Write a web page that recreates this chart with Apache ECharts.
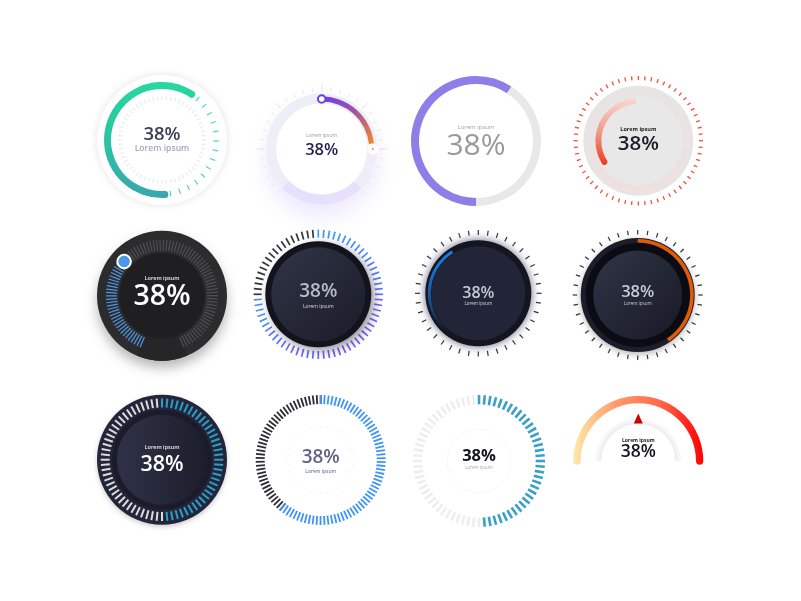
<!DOCTYPE html>
<html>
<head>
<meta charset="utf-8">
<title>Gauges</title>
<style>
  html, body { margin: 0; background: #fff; }
  #main { width: 801px; height: 601px; }
</style>
<script src="https://cdn.jsdelivr.net/npm/echarts@6/dist/echarts.min.js"></script>
</head>
<body>
<div id="main"></div>
<script>
// every dial shows the same reading
const percentValues = [38, 38, 38, 38, 38, 38, 38, 38, 38, 38, 38, 38];
const captions = Array(12).fill('Lorem ipsum');

// arc spans, [from, to] in degrees, clockwise
const greenArc = [273, 57];
const violetArc = [90, 6];
const purpleArc = [270, 57];
const greyArc = [57, -90];
const redArc = [212, 97];
const fadeBlueArc = [232, 122];
const orangeArc = [90, -56];
const warmArc = [180, 0];
// tick spans
const greenTicks = [49, -81];
const blueKnobTicks = [247, 138];
const greyKnobTicks = [138, -67];
const blackRimTicks = [231, 90];
const blueRimTicks = [90, -129];
// where the knobs and the triangle sit
const violetKnobAngle = 90;
const orangeKnobAngle = 0;
const blueKnobAngle = 138;
const trianglePosition = 90;

// tick colours going clockwise
const violetRimColors = ['#3d97ff', '#4a8cff', '#5a7cff', '#6d6af8', '#7a5cf5', '#7558f5', '#6a62fa', '#5a74ff', '#4a8cff', '#34343f', '#34343f', '#34343f'];
const halfBlueColors = ['#2b9fc5', '#dcdcdc'];
const halfPaleColors = ['#3aa0c8', '#eeeeee'];

const FONT = '"Open Sans"';
const series = [];
let z = 1;

function grad(x2, y2, x, y, stops) {
    return { type: 'linear', x: x, y: y, x2: x2, y2: y2, colorStops: stops.map((c, i) => ({ offset: i / (stops.length - 1), color: c })) };
}

function disc(c, r0, r, color, shadow) {
    series.push({
        type: 'pie', z: z++, center: c, radius: [r0, r], silent: true, animation: false,
        label: { show: false }, labelLine: { show: false },
        data: [{ value: 1, itemStyle: Object.assign({ color: color }, shadow || {}) }]
    });
}

function gaugeBase(c, r, from, to) {
    return {
        type: 'gauge', z: z++, center: c, radius: r, startAngle: from, endAngle: to, min: 0, max: 100,
        silent: true, animation: false,
        axisLine: { show: false, lineStyle: { width: 0 } },
        axisTick: { show: false }, splitLine: { show: false }, axisLabel: { show: false },
        pointer: { show: false }, anchor: { show: false }, title: { show: false }, detail: { show: false },
        data: [{ value: 0 }]
    };
}

function arc(c, r, width, span, color, round) {
    const g = gaugeBase(c, r, span[0], span[1]);
    g.progress = { show: true, width: width, roundCap: !!round, itemStyle: { color: color } };
    g.data = [{ value: 100 }];
    series.push(g);
}

// count ticks evenly on an open span
function ticks(c, r, len, width, count, span, colors) {
    const g = gaugeBase(c, r, span[0], span[1]);
    g.splitNumber = count - 1;
    g.axisLine.lineStyle.color = colors.map((col, i) => [(i + 1) / colors.length, col]);
    g.splitLine = { show: true, length: len, distance: 0, lineStyle: { color: 'auto', width: width } };
    series.push(g);
}

// count ticks round the whole circle, first one at the top
function ringTicks(c, r, len, width, count, colors) {
    ticks(c, r, len, width, count, [90, 90 - 360 * (count - 1) / count], colors);
}

function knob(c, r, angle, size, color, border, borderWidth, icon) {
    const g = gaugeBase(c, r, angle, angle - 1);
    g.pointer = {
        show: true, icon: icon || 'circle', width: size, length: size, offsetCenter: [0, -r + size / 2],
        itemStyle: { color: color, borderColor: border, borderWidth: borderWidth }
    };
    series.push(g);
}

function label(c, i, o) {
    const g = gaugeBase(c, 40, 225, -45);
    g.title = { show: true, offsetCenter: [0, o.capY], fontSize: o.capSize, color: o.capColor, fontFamily: FONT, fontWeight: o.capWeight || 400 };
    g.detail = {
        show: true, formatter: '{value}%', offsetCenter: [0, o.y], fontSize: o.size, color: o.color,
        fontFamily: FONT, fontWeight: o.weight || 600, valueAnimation: false
    };
    g.data = [{ value: percentValues[i], name: captions[i] }];
    series.push(g);
}

// 1 green
let c = [162, 140];
disc(c, 0, 65, '#fff', { shadowBlur: 8, shadowColor: 'rgba(0,0,0,0.11)' });
ringTicks(c, 44, 4, 1.5, 60, ['#eeeef0']);
ticks(c, 57, 5.5, 1.1, 14, greenTicks, ['#3ed6ab']);
arc(c, 58, 7, greenArc, grad(0, 1, 0, 0, ['#26d8a0', '#2cc3a3', '#39a6ad']), true);
label(c, 0, { capY: 9, capSize: 8.6, capColor: '#a5a7bc', capWeight: 600, y: -5, size: 18.5, color: '#394059' });

// 2 violet
c = [321.7, 149];
disc(c, 0, 55.5, '#eeeef8', { shadowBlur: 22, shadowColor: 'rgba(125,95,240,0.14)', shadowOffsetY: 12 });
arc(c, 55.5, 10, [-45, -135], '#e5e0fb');
disc(c, 0, 45.5, '#fff');
(function () {
    const g = gaugeBase(c, 65, 225, -45);
    g.splitNumber = 6;
    g.axisLine.lineStyle.color = [[1, '#e8e8ec']];
    g.splitLine = { show: true, length: 7, distance: 0, lineStyle: { color: 'auto', width: 1 } };
    g.axisTick = { show: true, splitNumber: 5, length: 4, distance: 3, lineStyle: { color: 'auto', width: 1 } };
    series.push(g);
})();
arc(c, 52.5, 5, violetArc, grad(1, 1, 0, 0, ['#6b3cf2', '#a2569f', '#f28a25']));
knob(c, 50, violetKnobAngle, 7.5, '#fff', '#6b3cf2', 2);
knob(c, 51, orangeKnobAngle, 11, '#fff', '#fff', 0);
knob(c, 51, orangeKnobAngle, 2, '#f28a25', '#f28a25', 0);
label(c, 1, { capY: -13, capSize: 5, capColor: '#9a9aa3', y: 1, size: 16.5, color: '#221f56' });

// 3 purple and grey
c = [476, 141];
arc(c, 65, 8, purpleArc, '#8e7fe8');
arc(c, 65, 8, greyArc, '#e8e8e8');
label(c, 2, { capY: -14, capSize: 6, capColor: '#a0a0a0', y: 5, size: 30, color: '#999', weight: 400 });

// 4 red
c = [638.3, 140.7];
ringTicks(c, 64.7, 4, 1.3, 60, ['#f0503a']);
disc(c, 0, 55, '#e9e4e4');
arc(c, 50, 6, [30, -170], grad(0, 1, 0, 0, ['#e9e4e4', '#efdfdd']));
disc(c, 0, 44.5, '#e8e8e8');
arc(c, 43, 6, redArc, grad(0, 1, 0, 0, ['#f8d8d2', '#f09a88', '#ee3a1c']), true);
label(c, 3, { capY: -11, capSize: 5.5, capColor: '#222', capWeight: 700, y: 3, size: 20.5, color: '#1b1b2a' });

// 5 dark with knob
c = [162, 295.7];
disc(c, 0, 65, '#2c2c2e', { shadowBlur: 12, shadowColor: 'rgba(0,0,0,0.28)', shadowOffsetY: 7 });
arc(c, 65, 22, [-67, -113], '#262628');
disc(c, 0, 43, '#1f1f21');
ticks(c, 56, 11, 1.2, 59, greyKnobTicks, ['#505052']);
ticks(c, 56, 11, 1.2, 32, blueKnobTicks, ['#4f98e4']);
knob(c, 51, blueKnobAngle, 13.5, '#4a97e8', '#fff', 2);
label(c, 4, { capY: -17, capSize: 5.5, capColor: '#eee', capWeight: 600, y: 1, size: 28.5, color: '#fff' });

// 6 dark with violet ticks
c = [318.3, 294.3];
ringTicks(c, 64.7, 8, 1.7, 72, violetRimColors);
disc(c, 0, 53, '#12131d', { shadowBlur: 8, shadowColor: 'rgba(30,30,50,0.5)', shadowOffsetX: 3, shadowOffsetY: 3 });
disc(c, 0, 47, grad(1, 1, 0, 0, ['#303446', '#1a1c28']));
label(c, 5, { capY: 12, capSize: 5, capColor: '#ddd', y: -3, size: 19, color: '#b8bbc9' });

// 7 dark with blue arc
c = [478.3, 293.3];
ringTicks(c, 63.3, 5, 1.2, 40, ['#333']);
disc(c, 0, 53, '#14151f', { shadowBlur: 9, shadowColor: 'rgba(60,65,95,0.85)' });
disc(c, 0, 47, '#222537');
arc(c, 50.5, 3, fadeBlueArc, grad(0, 1, 0, 0, ['#1a80e6', '#1a5da8', '#14151f']));
label(c, 6, { capY: 10.5, capSize: 4.5, capColor: '#ddd', y: 0, size: 16, color: '#c6c9d6' });

// 8 dark with orange arc
c = [637.7, 295];
ringTicks(c, 65, 4.5, 1.2, 40, ['#333']);
disc(c, 0, 57, '#1b1d2a', { shadowBlur: 6, shadowColor: 'rgba(0,0,0,0.3)', shadowOffsetY: 2 });
disc(c, 0, 52, '#0b0c13');
disc(c, 0, 44.5, grad(1, 1, 0, 0, ['#303446', '#181a26']));
arc(c, 56, 3.5, orangeArc, '#e55a05');
label(c, 7, { capY: 9, capSize: 4.5, capColor: '#ccc', y: -3, size: 16.5, color: '#c9ccd9' });

// 9 navy, half blue half light
c = [162, 459.7];
disc(c, 0, 65, '#23263a', { shadowBlur: 5, shadowColor: 'rgba(0,0,0,0.2)', shadowOffsetY: 2 });
ringTicks(c, 61.3, 9, 2, 72, halfBlueColors);
disc(c, 0, 50, '#1a1c2b');
disc(c, 0, 45, grad(1, 0, 0, 0, ['#2f3247', '#1c1e2c']));
label(c, 8, { capY: -12.5, capSize: 5.5, capColor: '#eee', capWeight: 600, y: 5, size: 21.5, color: '#fff' });

// 10 black and blue rim
c = [320.7, 460];
ticks(c, 65, 9, 1.8, 41, blackRimTicks, ['#2c2c36']);
ticks(c, 65, 9, 1.8, 63, blueRimTicks, ['#3f95f5']);
ringTicks(c, 33.5, 1, 0.8, 36, ['#dcdce2']);
label(c, 9, { capY: 11.7, capSize: 5, capColor: '#55597a', y: -2, size: 19, color: '#5f6385' });

// 11 pale and blue rim
c = [479, 461];
ringTicks(c, 66, 9.3, 2.6, 72, halfPaleColors);
disc(c, 31.7, 32.2, '#efefef');
label(c, 10, { capY: 7, capSize: 4.5, capColor: '#aaa', y: -5, size: 16.5, color: '#15151f', weight: 700 });

// 12 half gauge
c = [638.3, 461];
arc(c, 44, 7, warmArc, { type: 'radial', x: c[0], y: c[1], r: 44, global: true, colorStops: [{ offset: 0.84, color: '#ececef' }, { offset: 1, color: '#fff' }] });
arc(c, 65, 7.3, warmArc, grad(1, 0, 0, 0, ['#fde9a8', '#ff9a6a', '#ff6a4a', '#ff0000']), true);
(function () {
    // the triangle points at the middle of the arc
    const g = gaugeBase(c, 47.5, warmArc[0], warmArc[1]);
    g.pointer = { show: true, icon: 'triangle', width: 9, length: 10, offsetCenter: [0, -37.5], itemStyle: { color: '#d40000' } };
    g.max = 180;
    g.data = [{ value: trianglePosition }];
    series.push(g);
})();
label(c, 11, { capY: -20, capSize: 5, capColor: '#222', capWeight: 700, y: -8.5, size: 17.5, color: '#15151f' });

const myChart = echarts.init(document.getElementById('main'), null, { renderer: 'canvas' });
myChart.setOption({ backgroundColor: '#fff', animation: false, series: series });
</script>
</body>
</html>
